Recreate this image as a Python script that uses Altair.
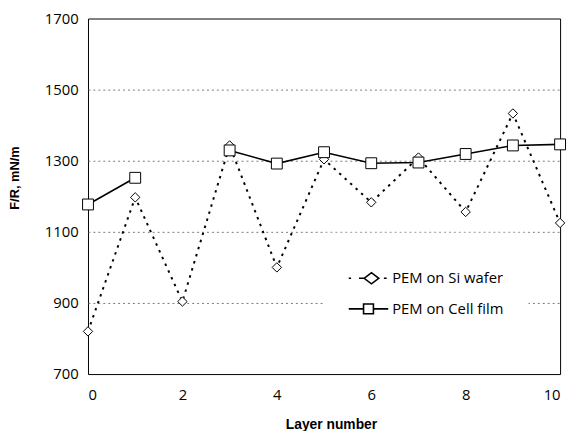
import altair as alt
import pandas as pd

# ---- data ----
layers = [0, 1, 2, 3, 4, 5, 6, 7, 8, 9, 10]
si_wafer = [820, 1197, 904, 1343, 1000, 1304, 1183, 1309, 1156, 1433, 1125]
cell_film = [1177, 1252, None, 1329, 1292, 1324, 1293, 1295, 1319, 1343, 1346]
series_names = ["PEM on Si wafer", "PEM on Cell film"]
y_ticks = [700, 900, 1100, 1300, 1500, 1700]
x_ticks = [0, 2, 4, 6, 8, 10]

rows = []
for l, v in zip(layers, si_wafer):
    rows.append({"layer": l, "value": v, "series": series_names[0], "seg": "si_0"})
seg = 0
for l, v in zip(layers, cell_film):
    if v is None:
        seg += 1
        continue
    rows.append({"layer": l, "value": v, "series": series_names[1], "seg": f"cell_{seg}"})
df = pd.DataFrame(rows)

# legend symbols: line + marker drawn as one custom path (units: 1 = half symbol width)
path_si = ("M-1,0L-0.88,0 M-0.48,0L-0.22,0 "
           "M-0.22,0L0.15,-0.28L0.52,0L0.15,0.28Z "
           "M0.78,0L0.92,0")
path_cell = ("M-1,0L-0.25,0 M0.25,0L1,0 "
             "M-0.25,-0.25L0.25,-0.25L0.25,0.25L-0.25,0.25Z")

x_enc = alt.X(
    "layer:Q",
    scale=alt.Scale(domain=[0, 10], nice=False, zero=False),
    axis=alt.Axis(
        values=x_ticks, format="d", title="Layer number", grid=False, ticks=False,
        domain=False, labelFont="Open Sans", labelFontSize=15, labelColor="black",
        labelPadding=14, titleFont="Liberation Sans", titleFontSize=14,
        titleFontWeight="bold", titleColor="black", titleX=246, titleY=55,
        titleAlign="center", titleBaseline="alphabetic",
    ),
)
y_enc = alt.Y(
    "value:Q",
    scale=alt.Scale(domain=[700, 1700], nice=False, zero=False),
    axis=alt.Axis(
        values=y_ticks, format="d", title="F/R, mN/m", grid=True, ticks=False,
        domain=False, gridColor="#7a7a7a", gridDash=[2, 3], gridWidth=1,
        gridOpacity={"condition": {"test": "datum.value <= 700 || datum.value >= 1700",
                                   "value": 0}, "value": 1},
        labelFont="Open Sans", labelFontSize=15, labelColor="black", labelPadding=10,
        titleFont="Liberation Sans", titleFontSize=13, titleFontWeight="bold",
        titleColor="black", titleAngle=270, titleX=-74, titleY=161,
        titleAlign="center", titleBaseline="middle",
    ),
)

base = alt.Chart(df)

si_line = base.transform_filter(
    alt.datum.series == series_names[0]
).mark_line(color="black", strokeWidth=2, strokeDash=[2.5, 5]).encode(
    x=x_enc, y=y_enc, detail="seg:N"
)
cell_line = base.transform_filter(
    alt.datum.series == series_names[1]
).mark_line(color="black", strokeWidth=1.6).encode(
    x=x_enc, y=y_enc, detail="seg:N"
)
si_pts = base.transform_filter(
    alt.datum.series == series_names[0]
).mark_point(shape="diamond", size=90, filled=True, fill="white", stroke="black",
             strokeWidth=1, opacity=1).encode(x=x_enc, y=y_enc)
cell_pts = base.transform_filter(
    alt.datum.series == series_names[1]
).mark_point(shape="square", size=121, filled=True, fill="white", stroke="black",
             strokeWidth=1, opacity=1).encode(x=x_enc, y=y_enc)

legend_layer = base.transform_filter("datum.layer < 0").mark_point(
    filled=False, color="black", strokeWidth=1.6, opacity=1
).encode(
    x=x_enc, y=y_enc,
    shape=alt.Shape(
        "series:N",
        scale=alt.Scale(domain=series_names, range=[path_si, path_cell]),
        legend=alt.Legend(
            title=None, orient="none", legendX=238, legendY=217,
            symbolSize=1600, symbolStrokeWidth=1.6,
            symbolStrokeColor="black", symbolOpacity=1,
            labelFont="Open Sans", labelFontSize=15, labelColor="black",
            labelOffset=3, rowPadding=1, padding=25, fillColor="white",
        ),
    ),
)

chart = alt.layer(si_line, si_pts, cell_line, cell_pts, legend_layer).properties(
    width=478,
    height=360,
    autosize=alt.AutoSizeParams(type="none"),
    padding={"left": 81, "top": 8, "right": 7, "bottom": 55},
    background="white",
).configure_view(stroke="black", strokeWidth=1)

chart.save("out.html", embed_options={"renderer": "svg", "actions": False})
